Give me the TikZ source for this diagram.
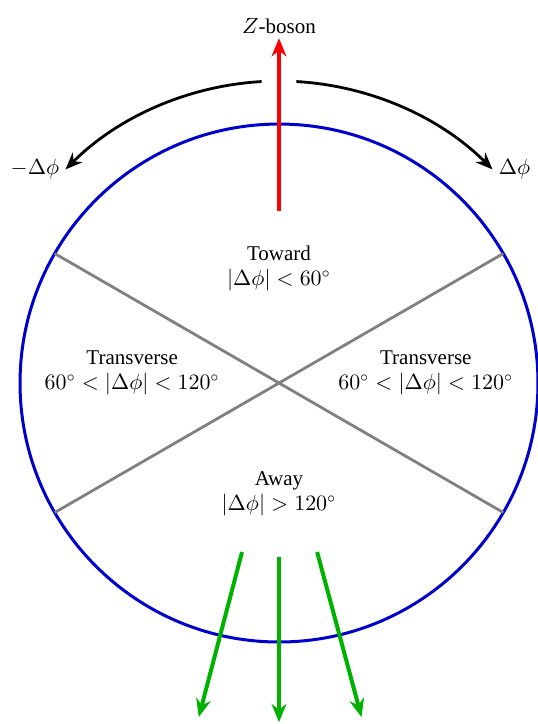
\documentclass[tikz,border=0pt]{standalone}
\usepackage{fontspec}
\setmainfont{Liberation Serif}
\usetikzlibrary{arrows.meta,positioning,calc}

\begin{document}
\begin{tikzpicture}[
  region/.style={align=center, font=\fontsize{10.5}{12.5}\selectfont, inner sep=1pt},
  rim/.style={draw=blue!80!black, line width=1.5pt},
  divider/.style={draw=gray, line width=1.4pt},
  zarrow/.style={-{Stealth[length=3.2mm, width=2.6mm]}, red, line width=2.3pt},
  jetarrow/.style={-{Stealth[length=3.2mm, width=2.6mm]}, green!70!black, line width=2pt},
  phiarrow/.style={-{Stealth[length=3mm, width=2.4mm]}, black, line width=1.4pt},
  lbl/.style={font=\fontsize{10.5}{12.5}\selectfont, inner sep=2pt},
]
\useasboundingbox (-4.903,-5.992) rectangle (4.551,6.731);

% === TRANSVERSE PLANE ===
\coordinate (o) at (0,0);
\draw[rim] (o) circle (4.551);
\draw[divider] (150:4.551) -- (-30:4.551);
\draw[divider] (210:4.551) -- (30:4.551);

% === REGIONS ===
\node[region] (toward) at (0,2.02) {Toward\\$|\Delta\phi| < 60^\circ$};
\node[region] (transL) at (-2.58,0.18) {Transverse\\$60^\circ < |\Delta\phi| < 120^\circ$};
\node[region] (transR) at (2.58,0.18) {Transverse\\$60^\circ < |\Delta\phi| < 120^\circ$};
\node[region] (away) at (0,-1.94) {Away\\$|\Delta\phi| > 120^\circ$};

% === Z BOSON ===
\coordinate (zs) at (0,3.02);
\coordinate (zt) at (0,6.06);
\draw[zarrow] (zs) -- (zt);
\node[lbl, above=0pt of zt] (zlabel) {$Z$-boson};

% === DELTA PHI ARCS ===
\coordinate (al) at (93.3:5.307);
\coordinate (ar) at (86.7:5.307);
\draw[phiarrow] (al) arc[start angle=93.3, end angle=135, radius=5.307] coordinate (tl);
\draw[phiarrow] (ar) arc[start angle=86.7, end angle=45, radius=5.307] coordinate (tr);
\node[lbl, left=1pt of tl] (mphi) {$-\Delta\phi$};
\node[lbl, right=1pt of tr] (pphi) {$\Delta\phi$};

% === RECOIL JETS ===
\coordinate (j1s) at (-0.65,-2.97);
\coordinate (j1t) at (-1.41,-5.87);
\coordinate (j2s) at (0,-3.06);
\coordinate (j2t) at (0,-5.96);
\coordinate (j3s) at (0.67,-2.97);
\coordinate (j3t) at (1.45,-5.87);
\draw[jetarrow] (j1s) -- (j1t);
\draw[jetarrow] (j2s) -- (j2t);
\draw[jetarrow] (j3s) -- (j3t);
\end{tikzpicture}
\end{document}
